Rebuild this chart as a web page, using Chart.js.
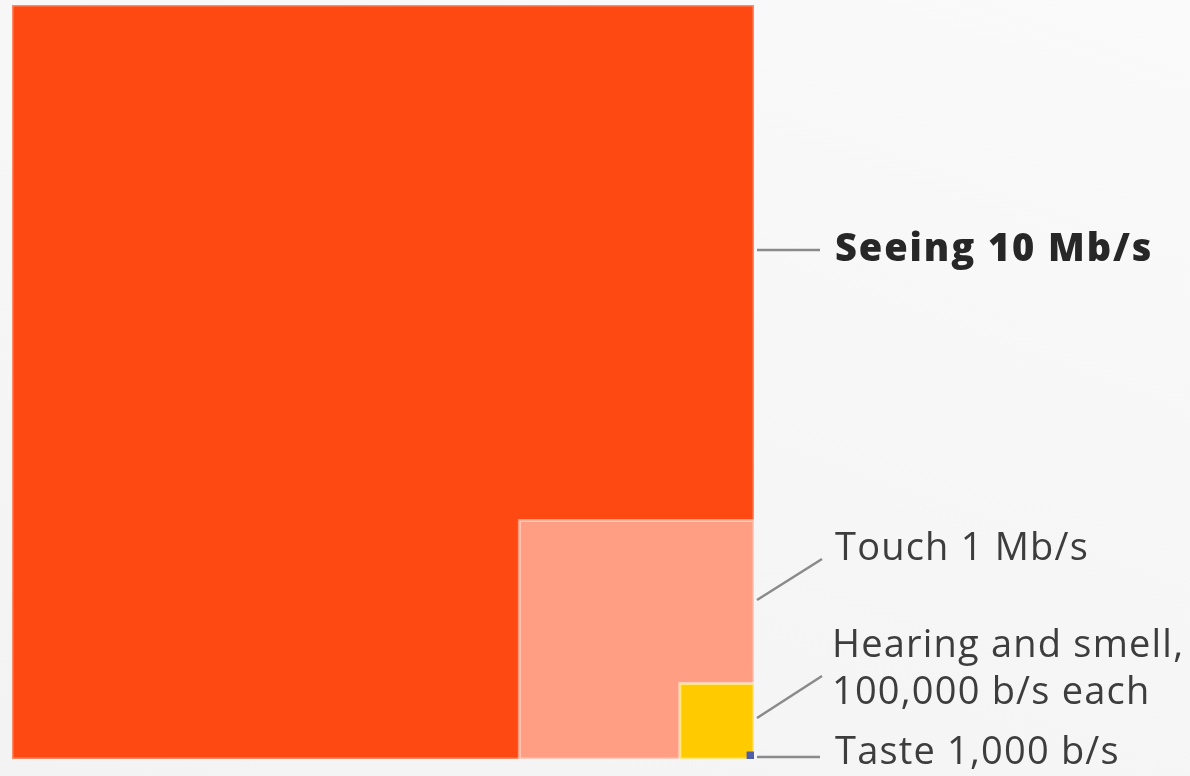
<!DOCTYPE html>
<html>
<head>
<meta charset="utf-8">
<script src="https://cdn.jsdelivr.net/npm/chart.js@4"></script>
<style>
  html, body { margin: 0; padding: 0; width: 1190px; height: 776px; overflow: hidden;
    background: linear-gradient(200deg, #fafafa 0%, #f6f6f6 55%, #f3f3f3 100%); }
  #wrap { position: relative; width: 1190px; height: 776px; }
</style>
</head>
<body>
<div id="wrap"><canvas id="c" width="1190" height="776"></canvas></div>
<script>
// ---- data ----
const senses = ['Seeing', 'Touch', 'Hearing and smell', 'Taste'];
const ratesBitsPerSec = [10000000, 1000000, 100000, 1000];
const labelTexts = [
  ['Seeing 10 Mb/s'],
  ['Touch 1 Mb/s'],
  ['Hearing and smell,', '100,000 b/s each'],
  ['Taste 1,000 b/s']
];

// ---- styles ----
const fillColors = ['#ff4913', '#ff9e83', '#ffcb00', '#4f5ea6'];
const edgeColors = ['rgba(255,255,255,0.35)', 'rgba(255,255,255,0.45)', 'rgba(255,255,255,0.5)', 'rgba(0,0,0,0)'];
const labelBold = [true, false, false, false];
// label layout (pixels): leader line start y, end point, text anchor
const labelLayout = [
  { y0: 250, x1: 820, y1: 250, tx: 835, ty: 250 },
  { y0: 600, x1: 822, y1: 559, tx: 835, ty: 549 },
  { y0: 718, x1: 822, y1: 676, tx: 832, ty: 646 },
  { y0: 757, x1: 820, y1: 757, tx: 835, ty: 753 }
];

const sides = ratesBitsPerSec.map(v => Math.sqrt(v));
const full = sides[0];

// squares anchored at bottom-right corner (full, 0)
const datasets = senses.map((name, i) => {
  const s = sides[i];
  return {
    label: name,
    data: [
      { x: full - s, y: 0 }, { x: full, y: 0 }, { x: full, y: s },
      { x: full - s, y: s }, { x: full - s, y: 0 }
    ],
    showLine: true,
    fill: 'shape',
    backgroundColor: fillColors[i],
    borderColor: edgeColors[i],
    borderWidth: i === 3 ? 0 : 3,
    pointRadius: 0,
    tension: 0,
    order: senses.length - i
  };
});

const labelPlugin = {
  id: 'senseLabels',
  afterDatasetsDraw(chart) {
    const ctx = chart.ctx;
    const xs = chart.scales.x;
    const edge = xs.getPixelForValue(full) + 3;
    ctx.save();
    labelLayout.forEach((L, i) => {
      ctx.strokeStyle = '#8a8a8a';
      ctx.lineWidth = 2.5;
      ctx.beginPath();
      ctx.moveTo(edge, L.y0);
      ctx.lineTo(L.x1, L.y1);
      ctx.stroke();
      ctx.fillStyle = labelBold[i] ? '#272727' : '#3d3d3d';
      ctx.font = (labelBold[i] ? '800 ' : '400 ') + '38px "Open Sans", sans-serif';
      if ('letterSpacing' in ctx) ctx.letterSpacing = labelBold[i] ? '1.9px' : '1.2px';
      ctx.textBaseline = 'middle';
      ctx.textAlign = 'left';
      labelTexts[i].forEach((t, k) => {
        ctx.fillText(t, L.tx, L.ty + k * 47);
      });
    });
    ctx.restore();
  }
};

new Chart(document.getElementById('c'), {
  type: 'scatter',
  data: { datasets },
  options: {
    responsive: false,
    animation: false,
    layout: { padding: { left: 12, right: 436, top: 5, bottom: 17 } },
    scales: {
      x: { type: 'linear', min: 0, max: full, display: false },
      y: { type: 'linear', min: 0, max: full, display: false }
    },
    plugins: { legend: { display: false }, tooltip: { enabled: false } }
  },
  plugins: [labelPlugin]
});
</script>
</body>
</html>
